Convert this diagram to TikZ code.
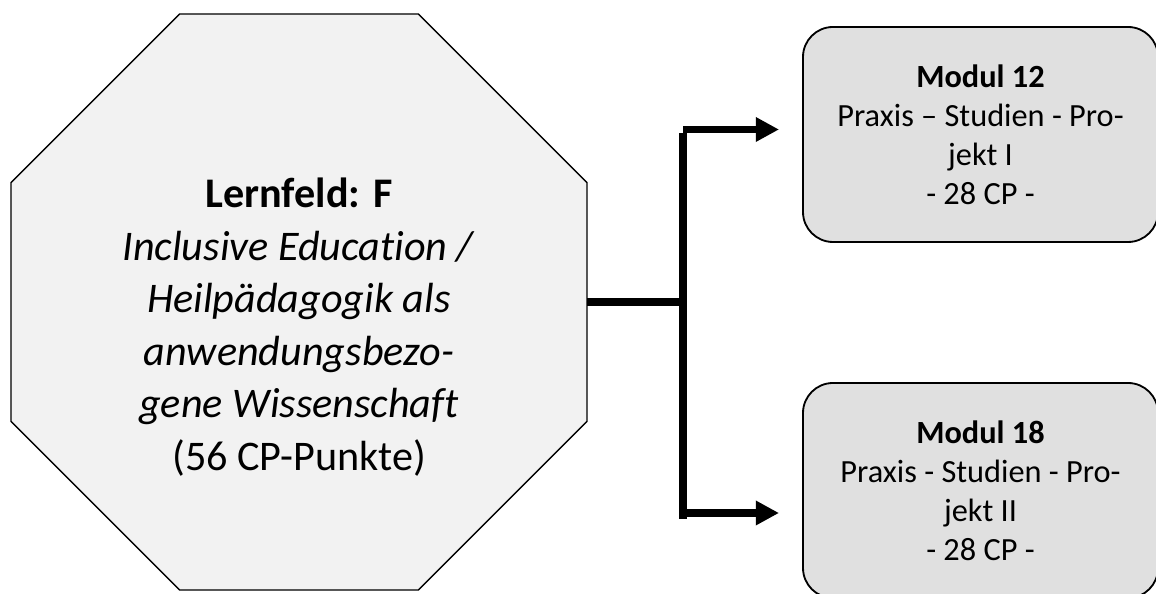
\documentclass[tikz,border=0pt]{standalone}
\usepackage{fontspec}
\setmainfont{Carlito}[Ligatures=NoCommon]
\usetikzlibrary{arrows,arrows.meta,shapes,positioning,calc}
\definecolor{lernfeld-grey}{HTML}{F2F2F2}
\definecolor{modul-grey}{HTML}{E0E0E0}

\begin{document}
\begin{tikzpicture}[
    lernfeld/.style={regular polygon, regular polygon sides=8, minimum size=15.59cm, inner sep=0pt, outer sep=0pt, fill=lernfeld-grey, draw=black, line width=0.9pt},
    modul/.style={rounded corners=0.75cm, minimum width=8.875cm, minimum height=5.375cm, fill=modul-grey, draw=black, line width=1.3pt, align=center, font=\fontsize{23}{27.8}\selectfont},
    verbinder/.style={line width=5.6pt},
    pfeil/.style={line width=5.2pt, -{Triangle[length=0.58cm,width=0.58cm]}}]
    \useasboundingbox (0,0) rectangle (28.9,14.85);

    \node[lernfeld] (lf) at (7.475, 7.3) {};
    \node[align=center, font=\fontsize{30}{37.4}\selectfont] (lf-text) at ($(lf.center)+(0,-0.63)$)
        {\textbf{Lernfeld: F}\\ \textit{Inclusive Education /}\\ \textit{Heilpädagogik als}\\ \textit{anwendungsbezo-}\\ \textit{gene Wissenschaft}\\ (56 CP-Punkte)};

    \node[modul] (m12) at (24.5125, 11.4875) {\textbf{Modul 12}\\ Praxis – Studien - Pro-\\ jekt I\\ - 28 CP -};
    \node[modul] (m18) at (24.5125, 2.5875) {\textbf{Modul 18}\\ Praxis - Studien - Pro-\\ jekt II\\ - 28 CP -};

    \coordinate (split)   at (17.075, 7.3) ;
    \coordinate (split-n) at (17.075, 11.525) ;
    \coordinate (split-s) at (17.075, 1.875) ;
    \draw[verbinder] (lf.east) -- (split);
    \draw[verbinder] (split-n) -- (split-s);

    \coordinate (ab12) at (17.075, 11.6125) ;
    \coordinate (an12) at (19.475, 11.6125) ;
    \draw[pfeil] (ab12) -- (an12);

    \coordinate (ab18) at (17.075, 2.025) ;
    \coordinate (an18) at (19.475, 2.025) ;
    \draw[pfeil] (ab18) -- (an18);

\end{tikzpicture}
\end{document}
